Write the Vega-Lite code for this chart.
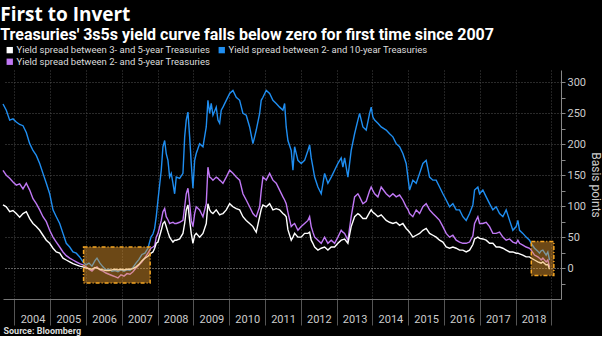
{
  "$schema": "https://vega.github.io/schema/vega-lite/v6.json",
  "width": 558,
  "height": 229,
  "padding": {"left": 0, "top": 6, "right": 0, "bottom": 0},
  "background": "black",
  "config": {
    "view": {"stroke": null},
    "font": "Roboto",
    "axis": {"labelOverlap": false, "labelFont": "Roboto", "titleFont": "Roboto"}
  },
  "title": {
    "text": "First to Invert",
    "subtitle": "Treasuries' 3s5s yield curve falls below zero for first time since 2007",
    "anchor": "start",
    "color": "white",
    "subtitleColor": "white",
    "font": "Open Sans",
    "subtitleFont": "Roboto",
    "fontSize": 19,
    "fontWeight": "bold",
    "subtitleFontSize": 16,
    "subtitleFontWeight": "bold",
    "subtitlePadding": 2,
    "offset": 2
  },
  "datasets": {
    "boxes": [
      {"t": 2005.93, "t2": 2007.79, "v": -24, "v2": 34},
      {"t": 2018.44, "t2": 2019.07, "v": -12, "v2": 43}
    ]
  },
  "encoding": {
    "x": {
      "field": "t", "type": "quantitative",
      "scale": {"domain": [2003.679, 2019.27], "nice": false, "zero": false},
      "axis": {
        "values": [2004, 2005, 2006, 2007, 2008, 2009, 2010, 2011, 2012, 2013, 2014, 2015, 2016, 2017, 2018, 2019],
        "format": "d",
        "labelExpr": "datum.value < 2019 ? datum.label : ''",
        "labelOverlap": false,
        "labelOffset": 18,
        "labelAlign": "center",
        "labelBaseline": "top",
        "labelPadding": -12,
        "labelColor": "#cccccc",
        "labelFontSize": 11,
        "tickSize": 26,
        "tickColor": "#555555",
        "domainColor": "#777777",
        "grid": true,
        "gridColor": "#444444",
        "gridDash": [1, 2],
        "title": "Source: Bloomberg",
        "titleAnchor": "start",
        "titleAlign": "left",
        "titleColor": "#dddddd",
        "titleFontSize": 9,
        "titleFontWeight": "bold",
        "titlePadding": 1
      }
    },
    "y": {
      "field": "v", "type": "quantitative",
      "scale": {"domain": [-50, 320], "nice": false, "zero": false},
      "axis": {
        "orient": "right",
        "values": [-25, 0, 25, 50, 75, 100, 125, 150, 175, 200, 225, 250, 275, 300],
        "labelExpr": "datum.value >= 0 && datum.value % 50 == 0 ? datum.label : ''",
        "labelOverlap": false,
        "labelColor": "#cccccc",
        "labelFontSize": 11,
        "labelPadding": 2,
        "tickSize": 4,
        "tickColor": "#888888",
        "domainColor": "#888888",
        "grid": true,
        "gridDash": [1, 2],
        "gridColor": {"condition": {"test": "datum.value == 0", "value": "#bbbbbb"}, "value": "#555555"},
        "gridOpacity": {"condition": {"test": "datum.value < 0 || datum.value % 50 != 0", "value": 0}, "value": 1},
        "title": "Basis points",
        "titleAngle": 90,
        "titleColor": "#cccccc",
        "titleFontSize": 12,
        "titleFontWeight": "normal",
        "titlePadding": 3
      }
    }
  },
  "layer": [
    {
      "data": {"values": [
        {"t":2003.679,"b":265,"p":158,"w":102},
        {"t":2003.771,"b":255,"p":150,"w":99},
        {"t":2003.866,"b":239,"p":145,"w":91},
        {"t":2003.958,"b":241,"p":139,"w":93},
        {"t":2004.050,"b":236,"p":134,"w":88},
        {"t":2004.145,"b":232,"p":136,"w":82},
        {"t":2004.238,"b":230,"p":128,"w":88},
        {"t":2004.330,"b":219,"p":137,"w":91},
        {"t":2004.425,"b":201,"p":126,"w":80},
        {"t":2004.517,"b":190,"p":112,"w":72},
        {"t":2004.609,"b":182,"p":104,"w":67},
        {"t":2004.704,"b":169,"p":94,"w":61},
        {"t":2004.796,"b":153,"p":83,"w":53},
        {"t":2004.889,"b":137,"p":75,"w":45},
        {"t":2004.983,"b":120,"p":61,"w":40},
        {"t":2005.076,"b":94,"p":50,"w":32},
        {"t":2005.168,"b":83,"p":42,"w":26},
        {"t":2005.263,"b":72,"p":34,"w":24},
        {"t":2005.355,"b":56,"p":26,"w":16},
        {"t":2005.447,"b":40,"p":20,"w":13},
        {"t":2005.542,"b":34,"p":16,"w":10},
        {"t":2005.634,"b":26,"p":13,"w":7},
        {"t":2005.726,"b":24,"p":10,"w":5},
        {"t":2005.821,"b":18,"p":7,"w":3},
        {"t":2005.914,"b":10,"p":5,"w":2},
        {"t":2005.997,"b":5,"p":2,"w":0},
        {"t":2006.081,"b":8,"p":-2,"w":-1},
        {"t":2006.165,"b":3,"p":-5,"w":-2},
        {"t":2006.249,"b":12,"p":0,"w":1},
        {"t":2006.305,"b":16,"p":2,"w":0},
        {"t":2006.388,"b":8,"p":-3,"w":-2},
        {"t":2006.472,"b":2,"p":-5,"w":-3},
        {"t":2006.556,"b":-3,"p":-8,"w":-4},
        {"t":2006.640,"b":-2,"p":-10,"w":-4},
        {"t":2006.724,"b":-5,"p":-12,"w":-3},
        {"t":2006.808,"b":-4,"p":-14,"w":-2},
        {"t":2006.891,"b":-6,"p":-16,"w":-3},
        {"t":2006.975,"b":-3,"p":-11,"w":-2},
        {"t":2007.059,"b":-5,"p":-13,"w":-3},
        {"t":2007.143,"b":-3,"p":-9,"w":-2},
        {"t":2007.226,"b":-4,"p":-10,"w":-2},
        {"t":2007.310,"b":1,"p":-6,"w":-1},
        {"t":2007.394,"b":8,"p":0,"w":2},
        {"t":2007.478,"b":14,"p":5,"w":6},
        {"t":2007.562,"b":22,"p":10,"w":12},
        {"t":2007.645,"b":24,"p":17,"w":16},
        {"t":2007.729,"b":32,"p":24,"w":19},
        {"t":2007.813,"b":50,"p":32,"w":24},
        {"t":2007.869,"b":55,"p":34,"w":26},
        {"t":2007.916,"b":64,"p":36,"w":32},
        {"t":2007.961,"b":83,"p":50,"w":40},
        {"t":2008.009,"b":110,"p":56,"w":42},
        {"t":2008.101,"b":158,"p":77,"w":61},
        {"t":2008.148,"b":196,"p":91,"w":72},
        {"t":2008.196,"b":206,"p":96,"w":75},
        {"t":2008.240,"b":185,"p":83,"w":67},
        {"t":2008.288,"b":174,"p":78,"w":58},
        {"t":2008.335,"b":147,"p":72,"w":50},
        {"t":2008.380,"b":153,"p":73,"w":46},
        {"t":2008.428,"b":137,"p":74,"w":42},
        {"t":2008.475,"b":120,"p":72,"w":45},
        {"t":2008.520,"b":147,"p":72,"w":45},
        {"t":2008.615,"b":145,"p":74,"w":47},
        {"t":2008.707,"b":153,"p":77,"w":56},
        {"t":2008.755,"b":212,"p":99,"w":72},
        {"t":2008.799,"b":239,"p":120,"w":94},
        {"t":2008.847,"b":252,"p":129,"w":102},
        {"t":2008.894,"b":212,"p":104,"w":77},
        {"t":2008.939,"b":169,"p":77,"w":56},
        {"t":2008.986,"b":129,"p":67,"w":40},
        {"t":2009.034,"b":174,"p":88,"w":53},
        {"t":2009.078,"b":185,"p":99,"w":56},
        {"t":2009.173,"b":201,"p":94,"w":50},
        {"t":2009.266,"b":196,"p":83,"w":56},
        {"t":2009.358,"b":228,"p":104,"w":72},
        {"t":2009.405,"b":271,"p":163,"w":104},
        {"t":2009.453,"b":250,"p":147,"w":94},
        {"t":2009.497,"b":266,"p":145,"w":90},
        {"t":2009.545,"b":247,"p":142,"w":88},
        {"t":2009.637,"b":260,"p":147,"w":94},
        {"t":2009.685,"b":239,"p":145,"w":90},
        {"t":2009.732,"b":234,"p":142,"w":86},
        {"t":2009.777,"b":255,"p":140,"w":87},
        {"t":2009.825,"b":260,"p":137,"w":88},
        {"t":2009.917,"b":271,"p":147,"w":94},
        {"t":2010.012,"b":282,"p":158,"w":104},
        {"t":2010.104,"b":287,"p":153,"w":99},
        {"t":2010.196,"b":276,"p":147,"w":96},
        {"t":2010.291,"b":271,"p":142,"w":94},
        {"t":2010.383,"b":250,"p":120,"w":83},
        {"t":2010.475,"b":247,"p":110,"w":77},
        {"t":2010.570,"b":228,"p":99,"w":72},
        {"t":2010.662,"b":201,"p":88,"w":67},
        {"t":2010.710,"b":212,"p":85,"w":62},
        {"t":2010.755,"b":223,"p":83,"w":58},
        {"t":2010.850,"b":250,"p":99,"w":83},
        {"t":2010.894,"b":271,"p":125,"w":95},
        {"t":2010.942,"b":276,"p":147,"w":102},
        {"t":2011.034,"b":287,"p":142,"w":99},
        {"t":2011.129,"b":282,"p":153,"w":104},
        {"t":2011.221,"b":271,"p":142,"w":94},
        {"t":2011.313,"b":266,"p":137,"w":96},
        {"t":2011.408,"b":260,"p":126,"w":94},
        {"t":2011.500,"b":255,"p":115,"w":88},
        {"t":2011.548,"b":266,"p":110,"w":86},
        {"t":2011.592,"b":228,"p":104,"w":83},
        {"t":2011.640,"b":206,"p":90,"w":62},
        {"t":2011.732,"b":190,"p":67,"w":45},
        {"t":2011.780,"b":158,"p":70,"w":50},
        {"t":2011.827,"b":196,"p":72,"w":56},
        {"t":2011.919,"b":174,"p":61,"w":50},
        {"t":2012.011,"b":169,"p":67,"w":50},
        {"t":2012.106,"b":174,"p":72,"w":56},
        {"t":2012.199,"b":190,"p":77,"w":56},
        {"t":2012.246,"b":199,"p":83,"w":58},
        {"t":2012.291,"b":178,"p":67,"w":45},
        {"t":2012.338,"b":163,"p":58,"w":40},
        {"t":2012.386,"b":147,"p":50,"w":34},
        {"t":2012.478,"b":131,"p":45,"w":29},
        {"t":2012.570,"b":120,"p":40,"w":32},
        {"t":2012.665,"b":153,"p":50,"w":34},
        {"t":2012.757,"b":137,"p":40,"w":29},
        {"t":2012.850,"b":147,"p":45,"w":34},
        {"t":2012.944,"b":158,"p":40,"w":34},
        {"t":2013.037,"b":169,"p":50,"w":40},
        {"t":2013.129,"b":178,"p":61,"w":45},
        {"t":2013.176,"b":163,"p":58,"w":46},
        {"t":2013.224,"b":178,"p":56,"w":47},
        {"t":2013.316,"b":147,"p":45,"w":40},
        {"t":2013.408,"b":190,"p":83,"w":67},
        {"t":2013.503,"b":217,"p":115,"w":83},
        {"t":2013.595,"b":239,"p":120,"w":88},
        {"t":2013.643,"b":250,"p":115,"w":86},
        {"t":2013.735,"b":228,"p":104,"w":80},
        {"t":2013.827,"b":223,"p":108,"w":80},
        {"t":2013.922,"b":250,"p":125,"w":90},
        {"t":2013.967,"b":260,"p":131,"w":94},
        {"t":2014.014,"b":244,"p":125,"w":90},
        {"t":2014.062,"b":239,"p":120,"w":88},
        {"t":2014.154,"b":234,"p":115,"w":83},
        {"t":2014.246,"b":228,"p":131,"w":86},
        {"t":2014.386,"b":223,"p":120,"w":77},
        {"t":2014.481,"b":217,"p":115,"w":74},
        {"t":2014.573,"b":212,"p":120,"w":72},
        {"t":2014.665,"b":201,"p":115,"w":74},
        {"t":2014.760,"b":196,"p":118,"w":69},
        {"t":2014.852,"b":185,"p":110,"w":72},
        {"t":2014.944,"b":169,"p":99,"w":64},
        {"t":2014.992,"b":147,"p":95,"w":61},
        {"t":2015.039,"b":126,"p":88,"w":58},
        {"t":2015.131,"b":142,"p":83,"w":50},
        {"t":2015.224,"b":137,"p":94,"w":53},
        {"t":2015.319,"b":153,"p":88,"w":56},
        {"t":2015.411,"b":169,"p":99,"w":61},
        {"t":2015.503,"b":174,"p":104,"w":64},
        {"t":2015.598,"b":147,"p":94,"w":56},
        {"t":2015.690,"b":142,"p":88,"w":53},
        {"t":2015.782,"b":142,"p":83,"w":50},
        {"t":2015.877,"b":131,"p":77,"w":45},
        {"t":2015.970,"b":120,"p":67,"w":42},
        {"t":2016.062,"b":110,"p":56,"w":34},
        {"t":2016.157,"b":99,"p":50,"w":32},
        {"t":2016.249,"b":104,"p":53,"w":34},
        {"t":2016.341,"b":94,"p":45,"w":32},
        {"t":2016.436,"b":94,"p":42,"w":29},
        {"t":2016.528,"b":83,"p":40,"w":29},
        {"t":2016.621,"b":77,"p":40,"w":26},
        {"t":2016.715,"b":88,"p":42,"w":29},
        {"t":2016.808,"b":102,"p":52,"w":38},
        {"t":2016.855,"b":126,"p":72,"w":47},
        {"t":2016.947,"b":131,"p":83,"w":50},
        {"t":2016.995,"b":120,"p":72,"w":48},
        {"t":2017.087,"b":126,"p":72,"w":47},
        {"t":2017.179,"b":115,"p":74,"w":45},
        {"t":2017.274,"b":104,"p":67,"w":40},
        {"t":2017.366,"b":94,"p":56,"w":40},
        {"t":2017.458,"b":99,"p":56,"w":34},
        {"t":2017.553,"b":88,"p":58,"w":34},
        {"t":2017.646,"b":83,"p":50,"w":32},
        {"t":2017.738,"b":94,"p":45,"w":29},
        {"t":2017.833,"b":77,"p":47,"w":26},
        {"t":2017.925,"b":61,"p":42,"w":26},
        {"t":2018.017,"b":67,"p":40,"w":24},
        {"t":2018.065,"b":77,"p":45,"w":24},
        {"t":2018.112,"b":61,"p":40,"w":23},
        {"t":2018.204,"b":56,"p":37,"w":21},
        {"t":2018.296,"b":50,"p":34,"w":18},
        {"t":2018.391,"b":45,"p":32,"w":18},
        {"t":2018.436,"b":40,"p":29,"w":16},
        {"t":2018.531,"b":32,"p":21,"w":13},
        {"t":2018.623,"b":27,"p":18,"w":10},
        {"t":2018.670,"b":24,"p":16,"w":9},
        {"t":2018.715,"b":28,"p":13,"w":8},
        {"t":2018.763,"b":29,"p":16,"w":10},
        {"t":2018.855,"b":21,"p":10,"w":5},
        {"t":2018.902,"b":26,"p":13,"w":6},
        {"t":2018.950,"b":13,"p":2,"w":-2}
      ]},
      "transform": [{"fold": ["b", "p", "w"], "as": ["s", "v"]}],
      "mark": {"type": "line", "strokeWidth": 1.4},
      "encoding": {
        "color": {
          "field": "s", "type": "nominal",
          "scale": {"domain": ["w", "b", "p"], "range": ["#ffffff", "#1f8ef1", "#c078f5"]},
          "legend": {
            "orient": "none",
            "legendX": 2,
            "legendY": -25,
            "direction": "horizontal",
            "columns": 2,
            "title": null,
            "symbolType": "square",
            "symbolSize": 40,
            "labelColor": "#dddddd",
            "labelFont": "Roboto",
            "labelFontSize": 9.5,
            "labelLimit": 400,
            "labelOffset": 2,
            "columnPadding": 6,
            "rowPadding": 1,
            "labelExpr": "datum.value == 'w' ? 'Yield spread between 3- and 5-year Treasuries' : datum.value == 'b' ? 'Yield spread between 2- and 10-year Treasuries' : 'Yield spread between 2- and 5-year Treasuries'",
            "encode": {"symbols": {"update": {"fill": {"scale": "color", "field": "value"}, "fillOpacity": {"value": 1}, "strokeWidth": {"value": 0}}}}
          }
        },
        "order": {"field": "s"}
      }
    },
    {
      "data": {"name": "boxes"},
      "mark": {"type": "rect", "fill": "#f0a030", "fillOpacity": 0.45, "stroke": "#f5a623", "strokeWidth": 1.5, "strokeDash": [4, 2, 1, 2]},
      "encoding": {
        "x2": {"field": "t2"},
        "y2": {"field": "v2"}
      }
    }
  ]
}
